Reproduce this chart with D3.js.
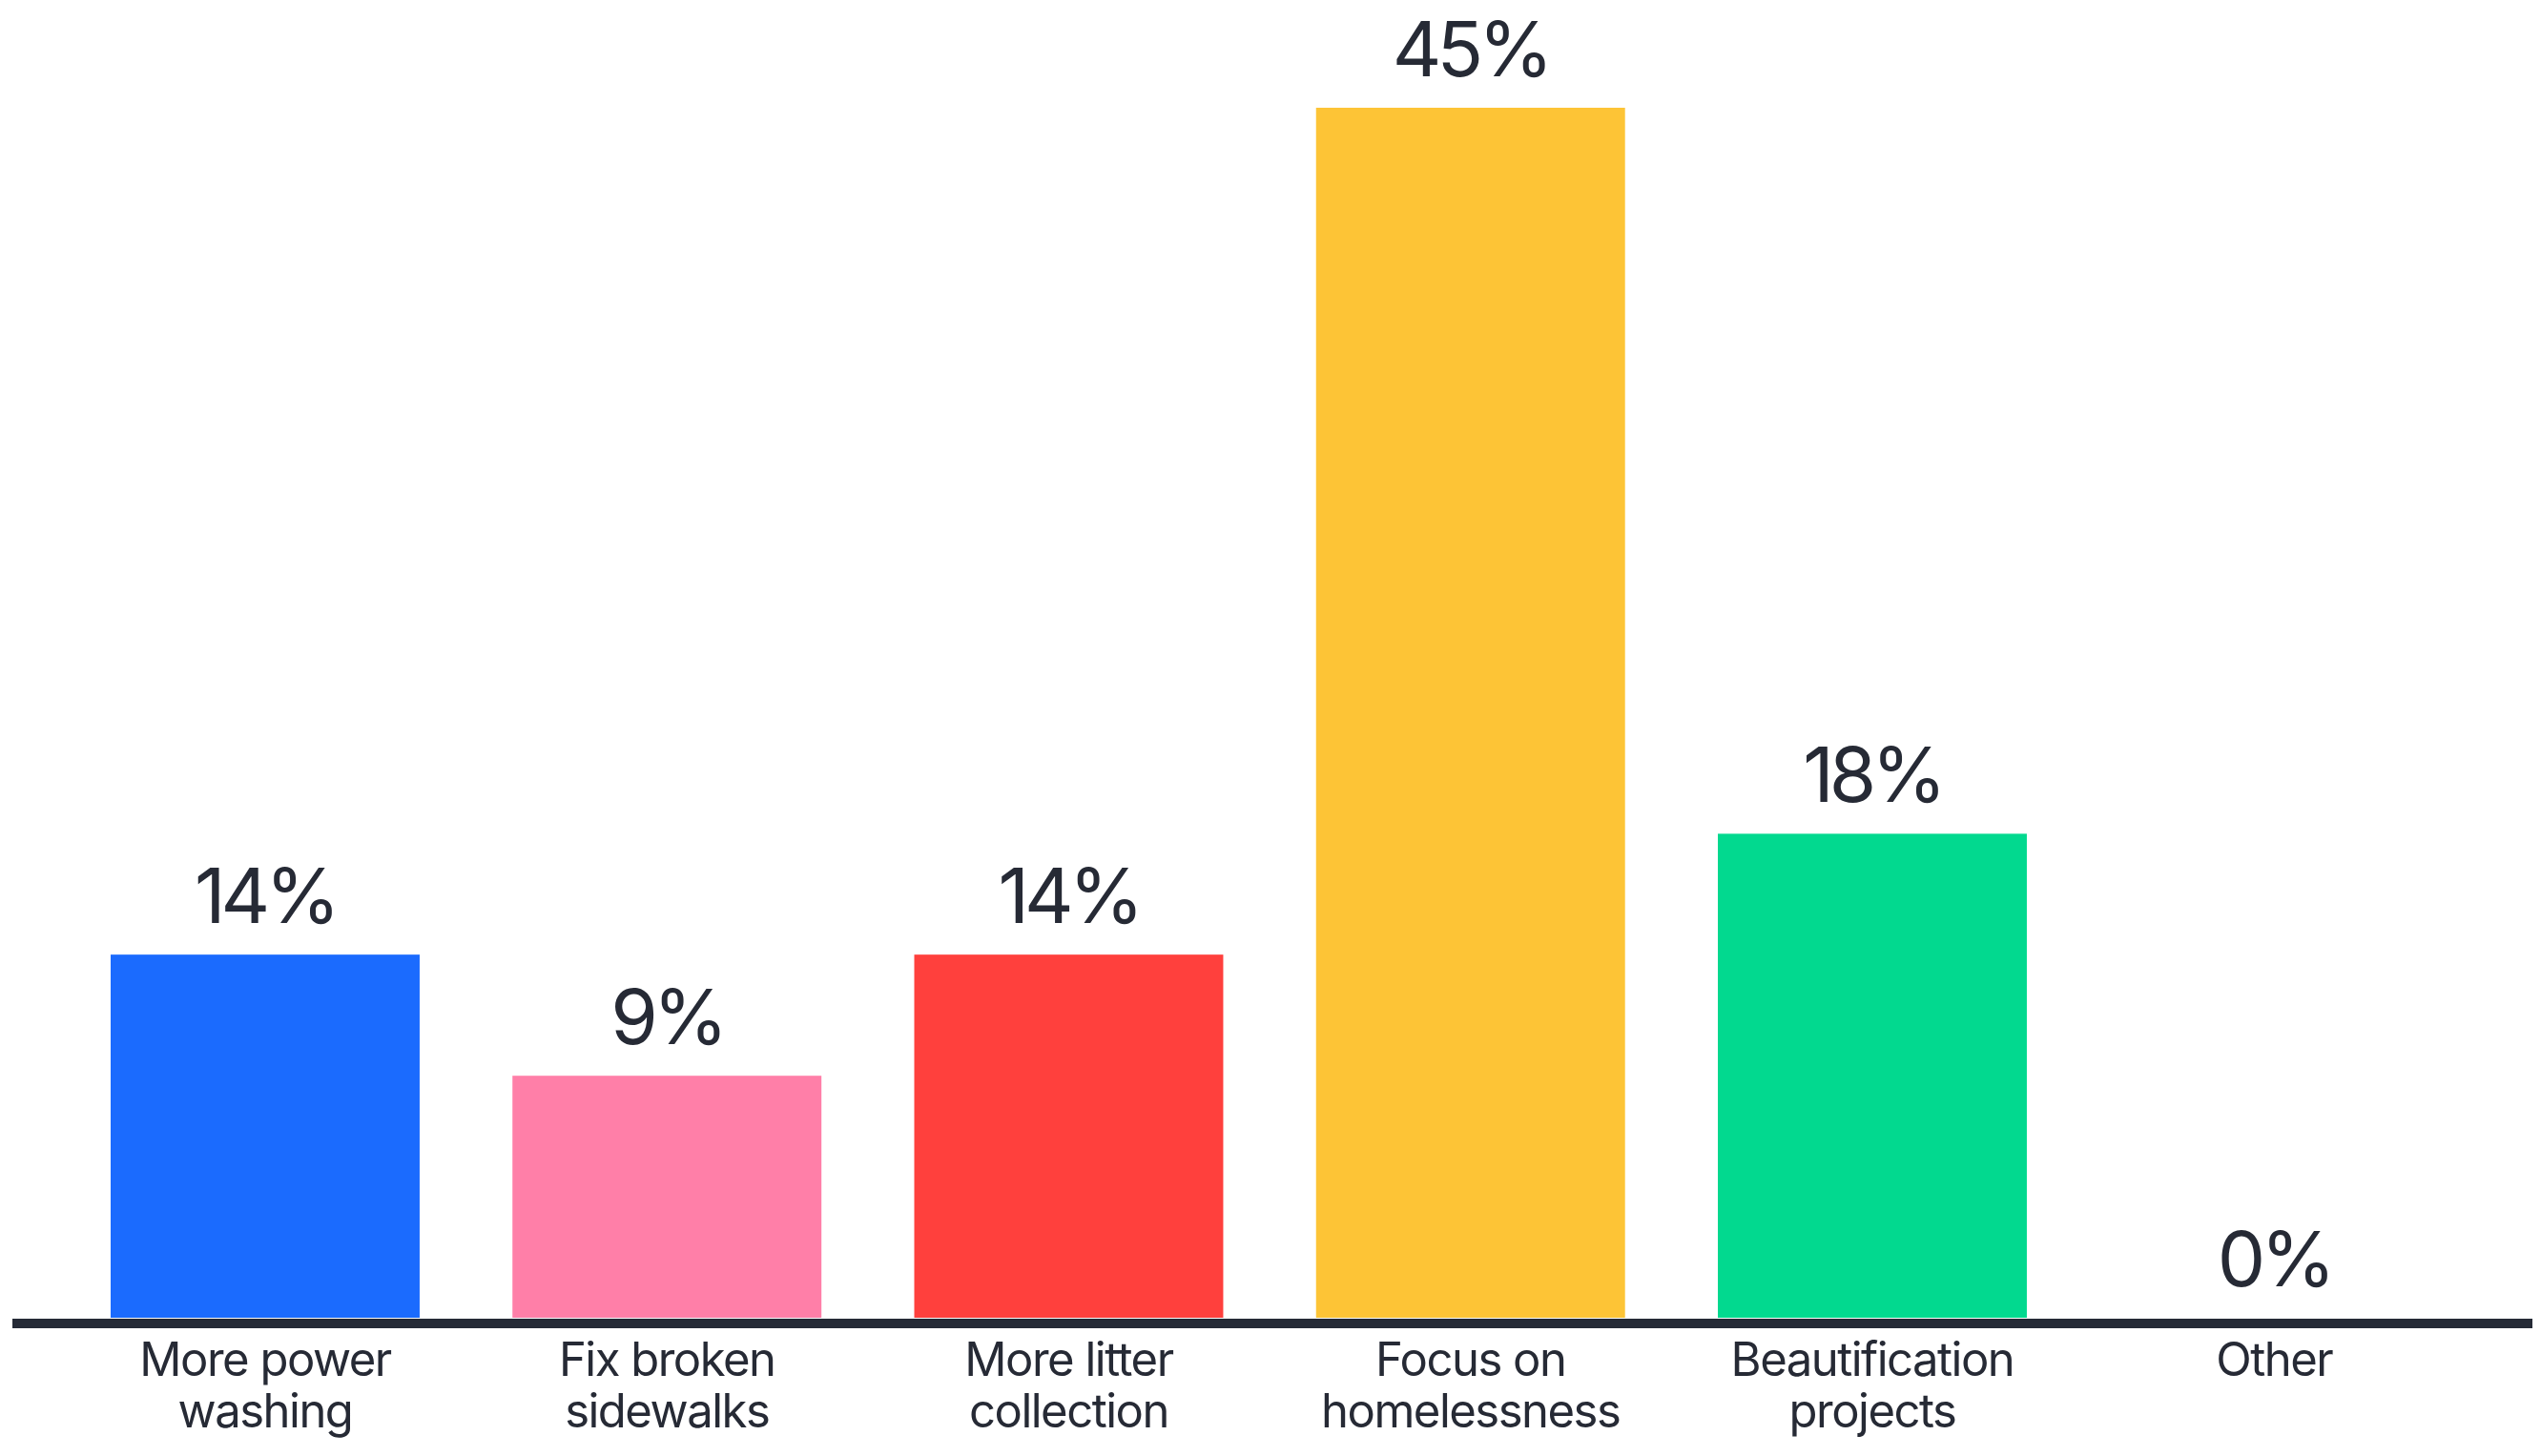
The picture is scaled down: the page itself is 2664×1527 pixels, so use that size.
<!DOCTYPE html>
<html>
<head>
<meta charset="utf-8">
<script src="https://cdn.jsdelivr.net/npm/d3@7"></script>
<style>
  html, body { margin: 0; padding: 0; background: #ffffff; }
  svg { display: block; }
</style>
</head>
<body>
<svg id="chart" width="2664" height="1527"></svg>
<script>
// Data (22 respondents -> shares)
const categories = ["More power washing", "Fix broken sidewalks", "More litter collection", "Focus on homelessness", "Beautification projects", "Other"];
const labelLines = [["More power", "washing"], ["Fix broken", "sidewalks"], ["More litter", "collection"], ["Focus on", "homelessness"], ["Beautification", "projects"], ["Other"]];
const values = [13.64, 9.09, 13.64, 45.45, 18.18, 0];
const valueLabels = ["14%", "9%", "14%", "45%", "18%", "0%"];
const colors = ["#1b6bfe", "#ff7fa8", "#ff403d", "#fdc436", "#02d98f", "#cccccc"];

const svg = d3.select("#chart");
const baseY = 1382;
const textColor = "#262a35";
const font = "Inter, 'Open Sans', sans-serif";

const x = d3.scaleBand()
  .domain(categories)
  .range([10.7, 2651.5])
  .paddingInner(0.231)
  .paddingOuter(0.25);

const y = d3.scaleLinear()
  .domain([0, 45.45])
  .range([baseY, 113]);

const data = categories.map((c, i) => ({ c, v: values[i], label: valueLabels[i], color: colors[i], lines: labelLines[i] }));

// bars
svg.append("g").selectAll("rect")
  .data(data)
  .join("rect")
  .attr("x", d => x(d.c))
  .attr("y", d => y(d.v))
  .attr("width", x.bandwidth())
  .attr("height", d => baseY - y(d.v))
  .attr("fill", d => d.color);

// axis baseline via d3 axis
const axisG = svg.append("g")
  .attr("transform", `translate(0,${baseY + 6})`)
  .call(d3.axisBottom(x).tickSize(0).tickFormat(""));
axisG.select(".domain")
  .attr("stroke", "#252a36")
  .attr("stroke-width", 10)
  .attr("d", "M13,0H2655");

// value labels
svg.append("g").selectAll("text")
  .data(data)
  .join("text")
  .attr("x", d => x(d.c) + x.bandwidth() / 2)
  .attr("y", d => y(d.v) - 33)
  .attr("text-anchor", "middle")
  .attr("font-family", font)
  .attr("font-size", 80)
  .attr("letter-spacing", -5)
  .attr("fill", textColor)
  .text(d => d.label);

// category labels
const catG = svg.append("g").selectAll("text")
  .data(data)
  .join("text")
  .attr("x", d => x(d.c) + x.bandwidth() / 2)
  .attr("y", 1443)
  .attr("text-anchor", "middle")
  .attr("font-family", font)
  .attr("font-size", 49)
  .attr("letter-spacing", -1.5)
  .attr("fill", textColor);
catG.selectAll("tspan")
  .data(d => d.lines.map((l, i) => ({ l, i, cx: x(d.c) + x.bandwidth() / 2 })))
  .join("tspan")
  .attr("x", t => t.cx)
  .attr("y", t => 1443 + t.i * 54)
  .text(t => t.l);
</script>
</body>
</html>
